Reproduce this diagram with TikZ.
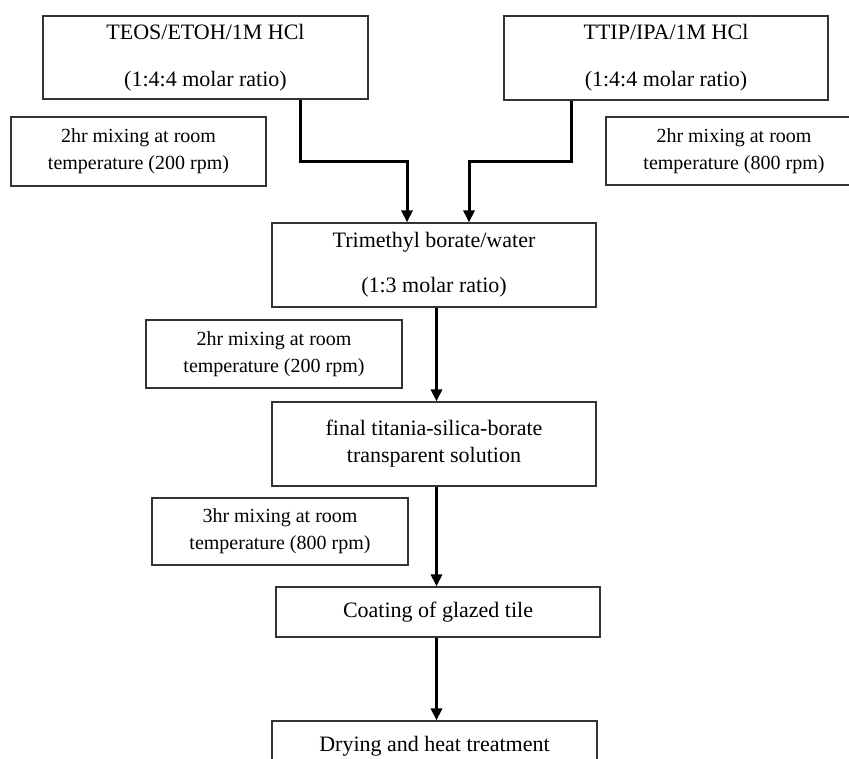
\documentclass[tikz,border=0pt]{standalone}
\usepackage{fontspec}
\setmainfont{Liberation Serif}
\usetikzlibrary{arrows.meta}

\tikzset{
	mainbox/.style={draw=black!80, line width=1.2pt, align=center, inner sep=0pt,
		minimum width=324pt, minimum height=84pt, font=\fontsize{22}{27}\selectfont},
	sidebox/.style={draw=black!80, line width=1.2pt, align=center, inner sep=0pt,
		minimum width=256pt, minimum height=68pt, font=\fontsize{20}{27}\selectfont},
	flow/.style={line width=3pt, -{Triangle[length=12pt,width=11pt]}}
}

\begin{document}
\begin{tikzpicture}[x=1pt,y=-1pt]
				%\draw[help lines] (0,0) grid (849,758);
				\useasboundingbox (0,0) rectangle (849,758);
				\clip (0,0) rectangle (849,758);
				
				% starting solutions
				\node[mainbox, minimum width=325pt, minimum height=83pt] (teos) at (205.5,57.5) {TEOS/ETOH/1M HCl\\[20pt](1:4:4 molar ratio)};
				\node[mainbox] (ttip) at (666,58) {TTIP/IPA/1M HCl\\[20pt](1:4:4 molar ratio)};
				\node[sidebox, minimum width=255pt, minimum height=69pt] (mixa) at (138.5,151.5) {2hr mixing at room\\temperature (200 rpm)};
				\node[sidebox] (mixb) at (734,151) {2hr mixing at room\\temperature (800 rpm)};
				
				% borate step
				\node[mainbox] (borate) at (434,265) {Trimethyl borate/water\\[18pt](1:3 molar ratio)};
				\node[sidebox] (mixc) at (274,354) {2hr mixing at room\\temperature (200 rpm)};
				
				\node[mainbox] (final) at (434,444) {final titania-silica-borate\\transparent solution};
				\node[sidebox, minimum height=67pt] (mixd) at (280,531.5) {3hr mixing at room\\temperature (800 rpm)};
				
				\node[mainbox, minimum height=50pt] (coat) at (438,612) {Coating of glazed tile};
				\node[mainbox, minimum width=325pt, minimum height=50pt] (dry) at (434.5,746) {Drying and heat treatment};
				
				\draw[flow] ([xshift=94.5pt]teos.south) -- ++(0,62) -| ([xshift=-27pt]borate.north);
				\draw[flow] ([xshift=-95pt]ttip.south) -- ++(0,61) -| ([xshift=35pt]borate.north);
				\draw[flow] ([xshift=2.5pt]borate.south) -- ([xshift=2.5pt]final.north);
				\draw[flow] ([xshift=2.5pt]final.south) -- ([xshift=-1.5pt]coat.north);
				\draw[flow] ([xshift=-1.5pt]coat.south) -- ([xshift=2pt]dry.north);
\end{tikzpicture}
\end{document}
